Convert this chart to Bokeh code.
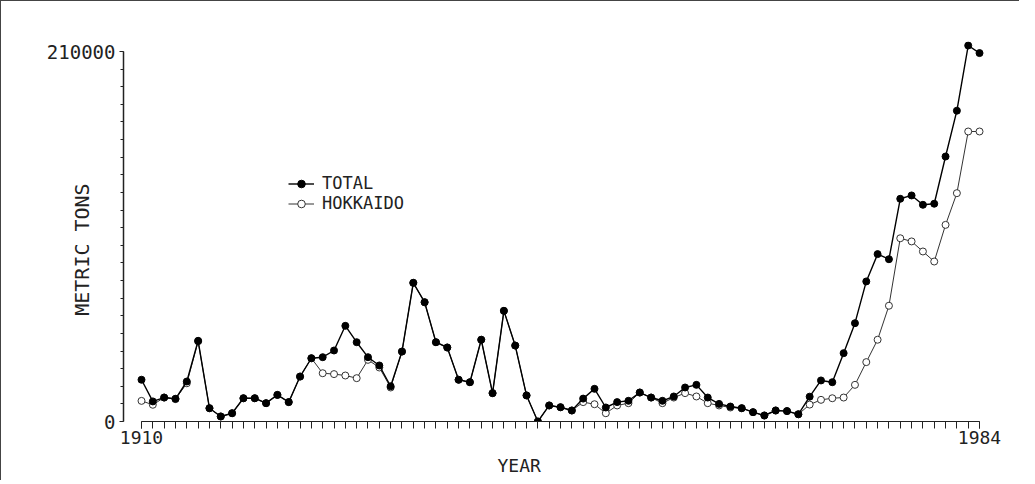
from bokeh.plotting import figure
from bokeh.models import FixedTicker, Range1d, Legend, LegendItem
from bokeh.embed import file_html
from bokeh.resources import INLINE

years = list(range(1910, 1985))

total = [
    23700, 11400, 13600, 12900, 22700, 45800, 7550, 2850, 4700, 13200,
    13200, 10400, 15100, 11000, 25500, 35900, 36500, 40300, 54300, 45000,
    36500, 31800, 20000, 39700, 78700, 67700, 45000, 42000, 23700, 22300,
    46400, 16100, 62800, 43100, 14800, 0, 9100, 8100, 6250, 13000,
    18550, 7950, 11000, 11750, 16450, 13600, 11750, 14200, 19300, 20800,
    13600, 10000, 8500, 7550, 5300, 3400, 6250, 5900, 4100, 14100,
    23300, 22300, 38800, 55800, 79500, 95000, 92100, 126400, 128300, 123000,
    123600, 150400, 176400, 213400, 209100,
]

hokkaido = [
    11700, 9500, 13600, 12700, 21700, 45500, 7550, 2850, 4700, 13200,
    13200, 10400, 15100, 11000, 25500, 35900, 27400, 26900, 26100, 24600,
    35000, 30650, 19300, 39700, 78700, 67700, 45000, 42000, 23700, 22300,
    46400, 16100, 62800, 43100, 14800, 0, 9100, 8100, 6250, 11000,
    9800, 4700, 9100, 10400, 16450, 13600, 10400, 13600, 16100, 14200,
    10400, 9100, 7950, 7550, 5300, 3400, 6250, 5900, 4100, 9600,
    12300, 13200, 13600, 20800, 33700, 46400, 65700, 104000, 102200, 96500,
    90800, 111600, 129600, 164600, 164600,
]

y_major = [0, 210000]
y_minor = list(range(0, 210001, 10000))
x_major = [1910, 1984]

FONT = "DejaVu Sans Mono"
INK = "#222222"
NBSP = "\u00a0"

p = figure(
    width=1019, height=480,
    x_range=Range1d(1908.41, 1985.94),
    y_range=Range1d(0, 215676),
    output_backend="svg", toolbar_location=None,
    min_border_left=122, min_border_right=19,
    min_border_top=40, min_border_bottom=60,
)
p.styles = {"border-top": "1px solid #444", "border-left": "1px solid #444"}
p.outline_line_color = None
p.xgrid.visible = False
p.ygrid.visible = False

# x axis
xa = p.xaxis[0]
xa.ticker = FixedTicker(ticks=x_major, minor_ticks=years)
xa.bounds = (1910, 1984)
xa.axis_line_color = INK
xa.axis_line_width = 1.2
xa.major_tick_out = 7
xa.major_tick_in = 0
xa.minor_tick_out = 7
xa.minor_tick_in = 0
xa.major_tick_line_color = INK
xa.minor_tick_line_color = INK
xa.major_label_text_font = FONT
xa.major_label_text_font_size = "18px"
xa.major_label_text_color = INK
xa.major_label_standoff = 2
xa.axis_label = "YEAR" + NBSP * 8
xa.axis_label_text_font = FONT
xa.axis_label_text_font_size = "18px"
xa.axis_label_text_font_style = "normal"
xa.axis_label_text_color = INK
xa.axis_label_standoff = 8

# y axis
ya = p.yaxis[0]
ya.ticker = FixedTicker(ticks=y_major, minor_ticks=y_minor)
ya.bounds = (0, 210000)
ya.axis_line_color = INK
ya.axis_line_width = 1.5
ya.major_tick_out = 4
ya.major_tick_in = 0
ya.minor_tick_out = 3
ya.minor_tick_in = 0
ya.major_tick_line_color = INK
ya.minor_tick_line_color = INK
ya.major_label_text_font = FONT
ya.major_label_text_font_size = "19px"
ya.major_label_text_color = INK
ya.major_label_standoff = 4
ya.formatter.use_scientific = False
ya.axis_label = "METRIC TONS" + NBSP * 3
ya.axis_label_text_font = FONT
ya.axis_label_text_font_size = "20px"
ya.axis_label_text_font_style = "normal"
ya.axis_label_text_color = INK
ya.axis_label_standoff = -50

# series
lh = p.line(years, hokkaido, line_color="#333333", line_width=1)
sh = p.scatter(years, hokkaido, marker="circle", size=7,
               fill_color="white", line_color="#333333", line_width=1)
lt = p.line(years, total, line_color="black", line_width=1.4)
st = p.scatter(years, total, marker="circle", size=7,
               fill_color="black", line_color="black")

legend = Legend(
    items=[
        LegendItem(label="TOTAL", renderers=[lt, st]),
        LegendItem(label="HOKKAIDO", renderers=[lh, sh]),
    ],
    location=(165, 208),
    background_fill_alpha=0, border_line_alpha=0,
    padding=0, spacing=0, margin=0,
    glyph_width=26, glyph_height=19, label_height=19,
    label_standoff=8,
    label_text_font=FONT, label_text_font_size="17px",
    label_text_color=INK,
)
p.add_layout(legend)

open("out.html", "w").write(file_html(p, INLINE))
